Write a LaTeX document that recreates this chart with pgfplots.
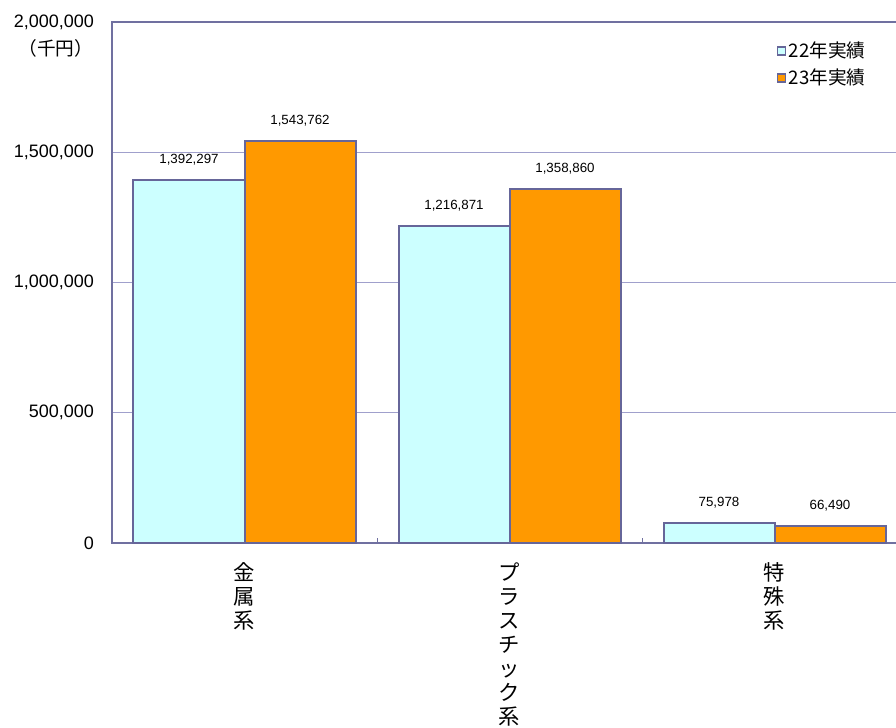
\documentclass[border=0pt]{standalone}
\usepackage{pgfplots}
\usepackage{pgfplotstable}
\pgfplotsset{compat=1.18}
\usepackage{fontspec}
\setmainfont{Liberation Sans}
\newfontfamily\cjk{Noto Sans CJK JP}

\definecolor{bluefill}{HTML}{CCFFFF}
\definecolor{orangefill}{HTML}{FF9900}
\definecolor{barborder}{HTML}{666699}
\definecolor{axiscol}{HTML}{7070A0}
\definecolor{gridcol}{HTML}{A0A0CC}

% x = category position, y = value (thousand yen)
\pgfplotstableread{
x y label
0 1392297 1,392,297
1 1216871 1,216,871
2 75978 75,978
}\yeartwentytwo
\pgfplotstableread{
x y label
0 1543762 1,543,762
1 1358860 1,358,860
2 66490 66,490
}\yeartwentythree

\begin{document}
\begin{tikzpicture}
\begin{axis}[
    scale only axis,
    width=596.25pt, height=390.75pt,
    xmin=-0.5, xmax=2.5,
    ymin=0, ymax=2000000,
    clip=false,
    ybar=0pt, bar width=83.25pt,
    axis line style={axiscol, line width=1.5pt},
    xtick={0,1,2},
    xticklabels={{金\\属\\系},{プ\\ラ\\ス\\チ\\ッ\\ク\\系},{特\\殊\\系}},
    xticklabel style={font=\cjk\fontsize{16}{18}\selectfont, align=center, anchor=north, yshift=-11pt},
    major x tick style={draw=none},
    minor xtick={0.5,1.5},
    minor x tick style={draw=axiscol, line width=0.75pt},
    minor tick length=4pt,
    tick align=inside,
    tick pos=left,
    ytick={0,500000,1000000,1500000,2000000},
    ytick style={draw=none},
    scaled y ticks=false,
    yticklabel style={font=\fontsize{13.5}{15}\selectfont, xshift=-10pt, /pgf/number format/.cd, fixed, 1000 sep={,}, assume math mode=true},
    ymajorgrids,
    major grid style={gridcol, line width=0.75pt},
    point meta=explicit symbolic,
    nodes near coords,
    nodes near coords style={font=\fontsize{10}{12}\selectfont, anchor=south, yshift=7pt},
    legend style={at={(rel axis cs:0.836,0.967)}, anchor=north west, draw=none, fill=none,
        font=\cjk\fontsize{14}{16}\selectfont, row sep=3pt, inner sep=0pt},
    legend cell align=left,
    legend image code/.code={\draw[#1, line width=1pt] (0pt,-3pt) rectangle (6pt,3pt);},
]
\addplot[fill=bluefill, draw=barborder, line width=1.5pt] table[x=x, y=y, meta=label] {\yeartwentytwo};
\addplot[fill=orangefill, draw=barborder, line width=1.5pt] table[x=x, y=y, meta=label] {\yeartwentythree};
\legend{22年実績, 23年実績}
\coordinate (sw) at (rel axis cs:0,0);
\node[anchor=east, font=\cjk\fontsize{14}{16}\selectfont, inner sep=0pt] at ([xshift=-14pt]rel axis cs:0,0.950) {（千円）};
\end{axis}
\pgfresetboundingbox
\path[use as bounding box] ([shift={(-84pt,-138.75pt)}]sw) rectangle ++(672pt,546pt);
\end{tikzpicture}
\end{document}
